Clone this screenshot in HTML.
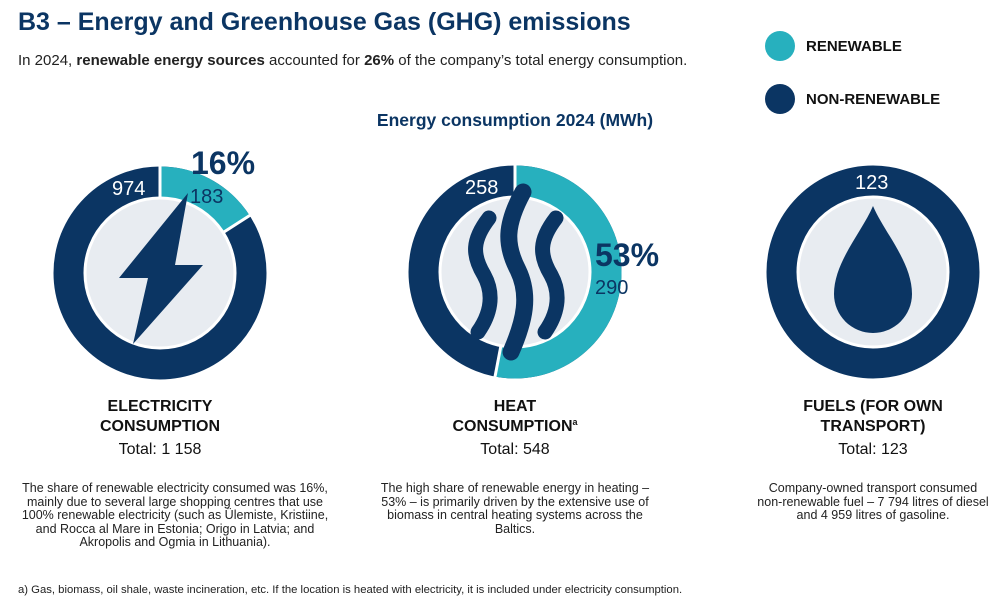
<!DOCTYPE html><html><head><style>
body{margin:0;width:1000px;height:599px;background:#fff;font-family:"Liberation Sans",sans-serif;color:#0b3563;position:relative;overflow:hidden}
.a{position:absolute;white-space:nowrap}
.c{text-align:center;transform:translateX(-50%)}
.cap{font-weight:bold;font-size:16px;line-height:20px;color:#111}
.tot{font-size:16px;color:#111}
.note{font-size:12.5px;line-height:13.5px;color:#222;text-align:center}
sup{font-size:9px;line-height:0;vertical-align:6px}
</style></head><body>
<div class="a" style="left:18px;top:8px;font-size:25px;font-weight:bold">B3 – Energy and Greenhouse Gas (GHG) emissions</div>
<div class="a" style="left:18px;top:52px;font-size:15px;color:#222">In 2024, <b>renewable energy sources</b> accounted for <b>26%</b> of the company’s total energy consumption.</div>
<div class="a" style="left:765px;top:31px;width:30px;height:30px;border-radius:50%;background:#27b0be"></div>
<div class="a" style="left:806px;top:38px;font-size:15px;font-weight:bold;color:#111">RENEWABLE</div>
<div class="a" style="left:765px;top:84px;width:30px;height:30px;border-radius:50%;background:#0b3563"></div>
<div class="a" style="left:806px;top:91px;font-size:15px;font-weight:bold;color:#111">NON-RENEWABLE</div>
<div class="a c" style="left:515px;top:110px;font-size:17.5px;font-weight:bold">Energy consumption 2024 (MWh)</div>
<svg class="a" style="left:0;top:0" width="1000" height="599">
<g transform="rotate(-90 160 273)"><circle cx="160" cy="273" r="91" fill="none" stroke="#0b3563" stroke-width="31"/><circle cx="160" cy="273" r="91" fill="none" stroke="#27b0be" stroke-width="31" stroke-dasharray="91.5 600"/></g>
<line x1="160" y1="273" x2="160" y2="160" stroke="#fff" stroke-width="3"/><line x1="160" y1="273" x2="252" y2="214" stroke="#fff" stroke-width="3"/>
<circle cx="160" cy="273" r="75" fill="#e8ecf1" stroke="#fff" stroke-width="3"/>
<polygon points="188,193 119,278 148,278 133,344 203,265 175,265" fill="#0b3563"/>
<g transform="rotate(-90 515 272)"><circle cx="515" cy="272" r="91" fill="none" stroke="#0b3563" stroke-width="31"/><circle cx="515" cy="272" r="91" fill="none" stroke="#27b0be" stroke-width="31" stroke-dasharray="303 600"/></g>
<line x1="515" y1="272" x2="515" y2="160" stroke="#fff" stroke-width="3"/><line x1="515" y1="272" x2="494" y2="382" stroke="#fff" stroke-width="3"/>
<circle cx="515" cy="272" r="75" fill="#e8ecf1" stroke="#fff" stroke-width="3"/>
<g fill="none" stroke="#0b3563" stroke-linecap="round">
<path d="M523,192 C505,225 505,245 518,270 C530,295 525,320 511,352" stroke-width="17"/>
<path d="M489,218 C472,240 472,255 484,275 C495,295 490,315 478,332" stroke-width="15"/>
<path d="M556,218 C539,240 539,255 551,275 C562,295 557,315 545,332" stroke-width="15"/>
</g>
<circle cx="873" cy="272" r="91" fill="none" stroke="#0b3563" stroke-width="31"/>
<circle cx="873" cy="272" r="75" fill="#e8ecf1" stroke="#fff" stroke-width="3"/>
<path d="M873,206 C862,232 834,262 834,294 A39,39 0 0 0 912,294 C912,262 884,232 873,206Z" fill="#0b3563"/>
<text x="112" y="195" font-size="20" fill="#fff">974</text>
<text x="190" y="203" font-size="20" fill="#0b3563">183</text>
<text x="191" y="174" font-size="32" font-weight="bold" fill="#0b3563">16%</text>
<text x="465" y="194" font-size="20" fill="#fff">258</text>
<text x="595" y="266" font-size="32" font-weight="bold" fill="#0b3563">53%</text>
<text x="595" y="294" font-size="20" fill="#0b3563">290</text>
<text x="855" y="189" font-size="20" fill="#fff">123</text>
</svg>
<div class="a c cap" style="left:160px;top:397px">ELECTRICITY<br>CONSUMPTION</div>
<div class="a c tot" style="left:160px;top:441px">Total: 1 158</div>
<div class="a c cap" style="left:515px;top:397px">HEAT<br>CONSUMPTION<sup>a</sup></div>
<div class="a c tot" style="left:515px;top:441px">Total: 548</div>
<div class="a c cap" style="left:873px;top:397px">FUELS (FOR OWN<br>TRANSPORT)</div>
<div class="a c tot" style="left:873px;top:441px">Total: 123</div>
<div class="a c note" style="left:175px;top:482px">The share of renewable electricity consumed was 16%,<br>mainly due to several large shopping centres that use<br>100% renewable electricity (such as Ülemiste, Kristiine,<br>and Rocca al Mare in Estonia; Origo in Latvia; and<br>Akropolis and Ogmia in Lithuania).</div>
<div class="a c note" style="left:515px;top:482px">The high share of renewable energy in heating –<br>53% – is primarily driven by the extensive use of<br>biomass in central heating systems across the<br>Baltics.</div>
<div class="a c note" style="left:873px;top:482px">Company-owned transport consumed<br>non-renewable fuel – 7 794 litres of diesel<br>and 4 959 litres of gasoline.</div>
<div class="a" style="left:18px;top:584px;font-size:11.3px;color:#222">a) Gas, biomass, oil shale, waste incineration, etc. If the location is heated with electricity, it is included under electricity consumption.</div>
</body></html>
